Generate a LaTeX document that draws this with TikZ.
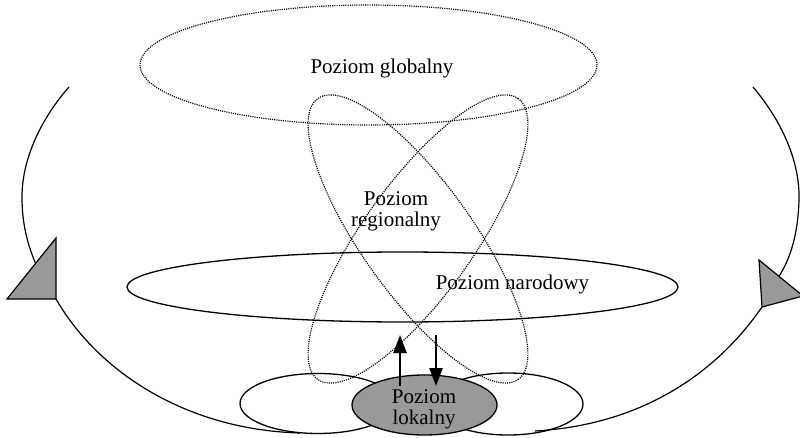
\documentclass[tikz,border=0pt]{standalone}
\usepackage{fontspec}
\setmainfont{Liberation Serif}
\usetikzlibrary{shapes.geometric,arrows.meta}
\definecolor{fillgray}{RGB}{153,153,153}
\tikzset{
  dotell/.style={draw, shape=ellipse, inner sep=0pt, line width=1.2pt, dash pattern=on 1.1pt off 1.1pt},
  solidell/.style={draw, shape=ellipse, inner sep=0pt, line width=1.3pt},
  lbl/.style={font=\fontsize{21}{21}\selectfont, inner sep=0pt, align=center},
  arc/.style={line width=1.2pt},
  head/.style={fill=fillgray, draw, line width=1.2pt, line join=miter},
  flow/.style={line width=2.4pt, -{Triangle[length=18pt,width=13pt]}}
}
\begin{document}
\begin{tikzpicture}[x=1pt,y=-1pt]
\useasboundingbox (0,0) rectangle (800,438);
% global level
\node[dotell, minimum width=457pt, minimum height=120pt] (glob) at (368.5,65) {};
% regional ellipses
\node[dotell, minimum width=345pt, minimum height=111pt, rotate=-54.5] (regA) at (418,239) {};
\node[dotell, minimum width=345pt, minimum height=111pt, rotate=54.5] (regB) at (418,239) {};
% national
\node[solidell, minimum width=551pt, minimum height=70pt] (nar) at (402.5,287) {};
% local white ellipses
\node[solidell, minimum width=156pt, minimum height=60pt] (lokL) at (318,403.5) {};
\node[solidell, minimum width=150pt, minimum height=62pt] (lokR) at (508,404) {};
\node[solidell, fill=fillgray, minimum width=145pt, minimum height=60pt] (lok) at (424.5,405) {};
% big loops
\coordinate (lA) at (69,87);
\coordinate (lB) at (22,197);
\coordinate (lC) at (35,262);
\coordinate (lD) at (56,299);
\coordinate (lE) at (300,433);
\draw[arc] (lA) .. controls (40,120) and (22,160) .. (lB)
  .. controls (22,225) and (28,245) .. (lC) -- (lD)
  .. controls (100,375) and (190,430) .. (lE);
\coordinate (rA) at (753,87);
\coordinate (rB) at (799,200);
\coordinate (rC) at (781,273);
\coordinate (rD) at (762,307);
\coordinate (rE) at (535,431);
\draw[arc] (rA) .. controls (785,125) and (800,165) .. (rB)
  .. controls (798,235) and (790,258) .. (rC) -- (rD)
  .. controls (715,375) and (640,425) .. (rE);
\draw[head] (56,238) -- (lD) -- (7,299) -- cycle;
\draw[head] (759,260) -- (rD) -- (803,296) -- cycle;
% labels
\node[lbl, anchor=base] (tglob) at (382,74) {Poziom globalny};
\node[lbl] (treg) at (396,211) {Poziom\\regionalny};
\node[lbl, anchor=base] (tnar) at (512.5,290) {Poziom narodowy};
\node[lbl] (tlok) at (424,409) {Poziom\\lokalny};
% arrows
\coordinate (upS) at (400,386);
\coordinate (upE) at (400,335);
\coordinate (dnS) at (436,335);
\coordinate (dnE) at (436,386);
\draw[flow] (upS) -- (upE);
\draw[flow] (dnS) -- (dnE);
\end{tikzpicture}
\end{document}
